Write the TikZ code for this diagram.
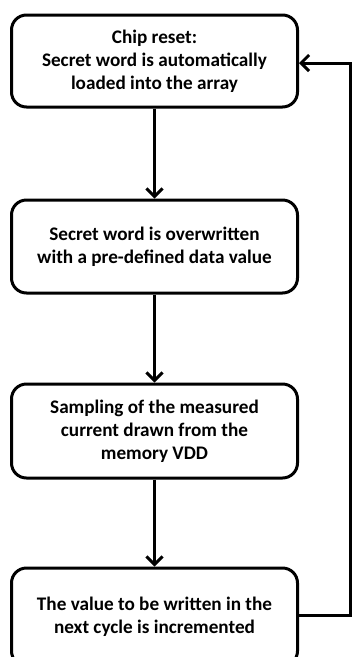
\documentclass[tikz,border=0pt]{standalone}
\usepackage{fontspec}
\setmainfont{Carlito}
\usetikzlibrary{arrows.meta}
\begin{document}
\begin{tikzpicture}[x=1pt,y=-1pt,
  box/.style={draw, line width=3pt, rounded corners=15pt, minimum width=286pt, align=center, font=\bfseries\fontsize{19.2}{22.8}\selectfont, inner sep=0pt},
  conn/.style={line width=3pt, -{Straight Barb[length=8pt,width=16pt,line width=3pt]}}]
\useasboundingbox (0,0) rectangle (353,657);
\node[box, minimum height=92pt] (b1) at (154.5,61) {Chip reset:\\Secret word is automatically\\loaded into the array};
\node[box, minimum height=93pt] (b2) at (154.5,246.5) {Secret word is overwritten\\with a pre-defined data value};
\node[box, minimum height=94pt] (b3) at (154.5,431) {Sampling of the measured\\current drawn from the\\memory VDD};
\node[box, minimum height=98pt] (b4) at (154.5,617) {The value to be written in the\\next cycle is incremented};
\coordinate (r1) at (350,615);
\coordinate (r2) at (350,63);
\draw[conn] (b1) -- (b2);
\draw[conn] (b2) -- (b3);
\draw[conn] (b3) -- (b4);
\draw[conn] (b4.east |- r1) -- (r1) -- (r2) -- (b1.east |- r2);
\end{tikzpicture}
\end{document}
